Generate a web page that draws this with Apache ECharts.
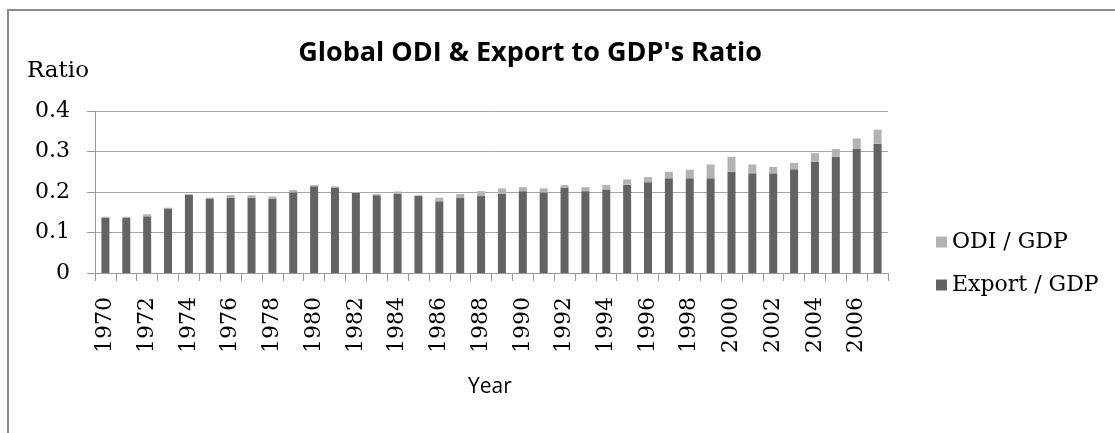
<!DOCTYPE html>
<html>
<head>
<meta charset="utf-8">
<script src="https://cdn.jsdelivr.net/npm/echarts@6/dist/echarts.min.js"></script>
<style>
html,body{margin:0;padding:0;background:#fff;}
#chart{width:1115px;height:433px;}
</style>
</head>
<body>
<div id="chart"></div>
<script>
var years = ['1970','1971','1972','1973','1974','1975','1976','1977','1978','1979',
  '1980','1981','1982','1983','1984','1985','1986','1987','1988','1989',
  '1990','1991','1992','1993','1994','1995','1996','1997','1998','1999',
  '2000','2001','2002','2003','2004','2005','2006','2007'];
var exportGdp = [0.136,0.136,0.140,0.158,0.193,0.184,0.186,0.186,0.183,0.199,
  0.214,0.211,0.198,0.192,0.195,0.190,0.177,0.186,0.190,0.196,
  0.202,0.199,0.211,0.202,0.205,0.218,0.224,0.234,0.234,0.234,
  0.250,0.246,0.246,0.256,0.275,0.287,0.306,0.319];
var odiGdp = [0.003,0.003,0.005,0.003,0.002,0.002,0.006,0.006,0.006,0.006,
  0.003,0.003,0.002,0.003,0.006,0.002,0.009,0.009,0.012,0.013,
  0.010,0.010,0.006,0.010,0.012,0.013,0.013,0.016,0.021,0.034,
  0.037,0.022,0.016,0.016,0.021,0.019,0.026,0.035];
var yTicks = [0, 0.1, 0.2, 0.3, 0.4];

var serif = 'DejaVu Serif';
var chart = echarts.init(document.getElementById('chart'));
chart.setOption({
  animation: false,
  backgroundColor: '#fff',
  title: {
    text: "Global ODI & Export to GDP's Ratio",
    left: 525, top: 35, textAlign: 'center',
    textStyle: {fontFamily: 'Open Sans', fontWeight: 'bold', fontSize: 27, color: '#000'}
  },
  graphic: [
    {type: 'rect', shape: {x: 8, y: 10, width: 1130, height: 450},
     style: {fill: 'none', stroke: '#8c8c8c', lineWidth: 2}, silent: true},
    {type: 'text', left: 27, top: 60,
     style: {text: 'Ratio', font: '23px "DejaVu Serif"', fill: '#000'}},
    {type: 'text', left: 468, top: 377,
     style: {text: 'Year', font: '21px "Open Sans"', fill: '#000'}}
  ],
  legend: {
    orient: 'vertical', left: 931, top: 226,
    itemWidth: 11, itemHeight: 11, itemGap: 21,
    icon: 'rect',
    data: ['ODI / GDP', 'Export / GDP'],
    textStyle: {fontFamily: serif, fontSize: 22, color: '#000'}
  },
  grid: {left: 95, top: 111, width: 793, height: 162},
  xAxis: {
    type: 'category', data: years,
    axisLine: {lineStyle: {color: '#999', width: 1}},
    axisTick: {show: true, interval: 0, length: 8, lineStyle: {color: '#999'}},
    axisLabel: {interval: 1, rotate: 90, margin: 24, fontFamily: serif, fontSize: 22, color: '#000'}
  },
  yAxis: {
    type: 'value', min: yTicks[0], max: yTicks[yTicks.length - 1], interval: 0.1,
    axisLine: {show: true, lineStyle: {color: '#999', width: 1}},
    axisTick: {show: true, length: 8, lineStyle: {color: '#999'}},
    splitLine: {lineStyle: {color: '#a6a6a6', width: 1}},
    axisLabel: {margin: 25, fontFamily: serif, fontSize: 22, color: '#000',
      formatter: function (v) { return v === 0 ? '0' : v.toFixed(1); }}
  },
  series: [
    {name: 'Export / GDP', type: 'bar', stack: 'total', data: exportGdp,
     barWidth: 8, itemStyle: {color: '#636363'}},
    {name: 'ODI / GDP', type: 'bar', stack: 'total', data: odiGdp,
     barWidth: 8, itemStyle: {color: '#b3b3b3'}}
  ]
});
</script>
</body>
</html>
